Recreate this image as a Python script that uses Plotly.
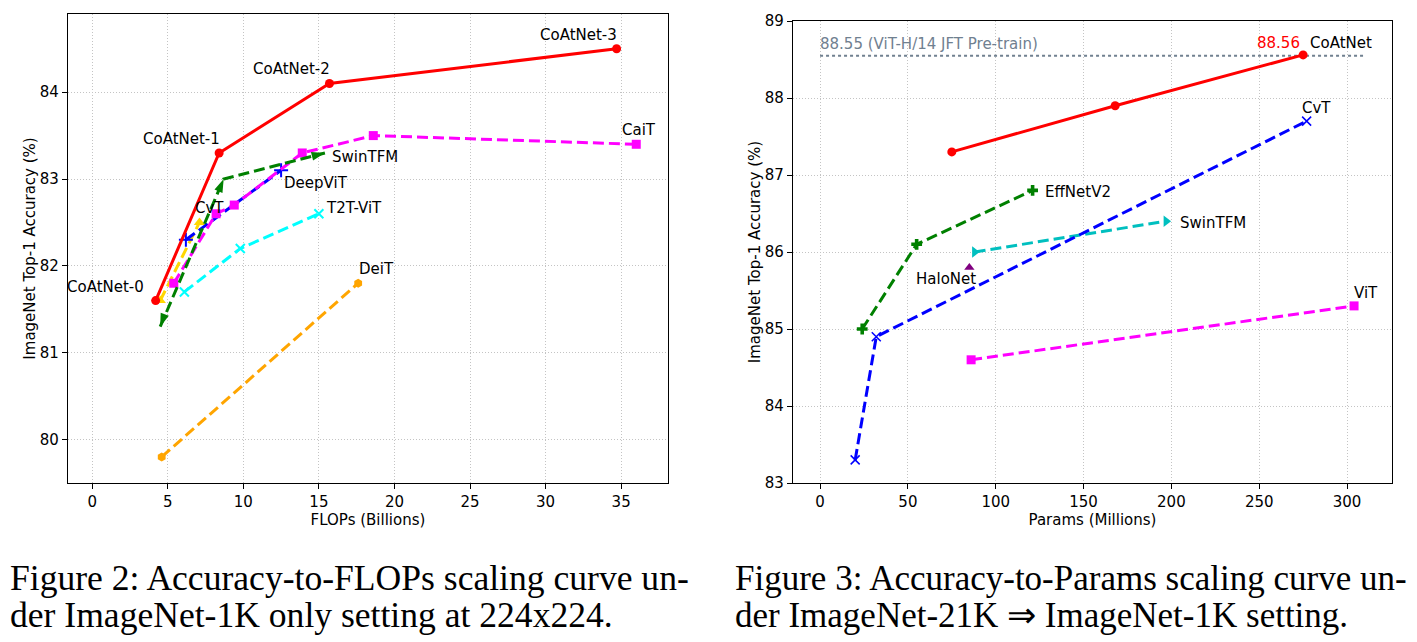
import plotly.graph_objects as go

# ---------------- Data: Figure 2 (FLOPs) ----------------
coatnet_flops = [4.2, 8.4, 15.7, 34.7]
coatnet_acc1k = [81.6, 83.3, 84.1, 84.5]
coatnet_names = ["CoAtNet-0", "CoAtNet-1", "CoAtNet-2", "CoAtNet-3"]

cait_flops = [5.4, 8.2, 9.4, 13.9, 18.6, 36.0]
cait_acc = [81.8, 82.6, 82.7, 83.3, 83.5, 83.4]

swin_flops = [4.5, 8.7, 15.4]
swin_acc1k = [81.3, 83.0, 83.3]

deepvit_flops = [6.2, 12.5]
deepvit_acc = [82.3, 83.1]

cvt_flops = [4.5, 7.1]
cvt_acc1k = [81.6, 82.5]

t2t_flops = [6.1, 9.8, 15.0]
t2t_acc = [81.7, 82.2, 82.6]

deit_flops = [4.6, 17.6]
deit_acc = [79.8, 81.8]

# ---------------- Data: Figure 3 (Params) ----------------
coatnet_params = [75, 168, 275]
coatnet_acc21k = [87.3, 87.9, 88.56]

cvt_params = [20, 32, 277]
cvt_acc21k = [83.3, 84.9, 87.7]

effv2_params = [24, 55, 121]
effv2_acc = [85.0, 86.1, 86.8]

swin_params = [88, 197]
swin_acc21k = [86.0, 86.4]

halonet_params = [85]
halonet_acc = [85.8]

vit_params = [86, 304]
vit_acc = [84.6, 85.3]

vit_h_ref = 88.55
ref_line_x = [0, 310]

W, H = 1417, 642
TICKFONT = dict(family="DejaVu Sans", size=15, color="black")
LABELFONT = dict(family="DejaVu Sans", size=15, color="black")
TITLEFONT = dict(family="DejaVu Sans", size=15, color="black")
DASH = "11px,5px"
LW = 3

fig = go.Figure()


def line(x, y, color, dash, symbol, size, xa, ya, angle=None, mline=None, mcolor=None):
    marker = dict(symbol=symbol, size=size, color=mcolor or color)
    if angle is not None:
        marker["angle"] = angle
    if mline:
        marker["line"] = dict(color=color, width=mline)
    fig.add_trace(go.Scatter(
        x=x, y=y, mode="lines+markers", xaxis=xa, yaxis=ya,
        line=dict(color=color, width=LW, dash=dash),
        marker=marker, showlegend=False, hoverinfo="x+y"))


# ---- Left plot ----
line(deit_flops, deit_acc, "orange", DASH, "hexagon", 9, "x", "y")
line(t2t_flops, t2t_acc, "cyan", DASH, "x-thin-open", 9, "x", "y", mline=2)
line(cvt_flops, cvt_acc1k, "gold", DASH, "triangle-up", 10, "x", "y")
line(deepvit_flops, deepvit_acc, "blue", DASH, "cross-thin-open", 10, "x", "y", mline=2)
line(cait_flops, cait_acc, "magenta", DASH, "square", 9, "x", "y")
line(swin_flops, swin_acc1k, "green", DASH, "arrow", 14, "x", "y", angle=[200, 23, 76])
line(coatnet_flops, coatnet_acc1k, "red", "solid", "circle", 9, "x", "y")

# ---- Right plot ----
fig.add_trace(go.Scatter(
    x=ref_line_x, y=[vit_h_ref, vit_h_ref], mode="lines", xaxis="x2", yaxis="y2",
    line=dict(color="#708090", width=2, dash="dot"), showlegend=False, hoverinfo="skip"))
line(vit_params, vit_acc, "magenta", DASH, "square", 9, "x2", "y2")
line(swin_params, swin_acc21k, "#00BFBF", DASH, "triangle-right", 10, "x2", "y2")
line(effv2_params, effv2_acc, "green", DASH, "cross", 9, "x2", "y2")
line(cvt_params, cvt_acc21k, "blue", DASH, "x-thin-open", 9, "x2", "y2", mline=1.5)
fig.add_trace(go.Scatter(
    x=halonet_params, y=halonet_acc, mode="markers", xaxis="x2", yaxis="y2",
    marker=dict(symbol="triangle-up", size=9, color="purple"), showlegend=False))
line(coatnet_params, coatnet_acc21k, "red", "solid", "circle", 9, "x2", "y2")


def label(text, x, y, xa, ya, anchor, dx, dy, color="black"):
    fig.add_annotation(text=text, x=x, y=y, xref=xa, yref=ya, showarrow=False,
                       xanchor=anchor, yanchor="middle", xshift=dx, yshift=dy,
                       font=dict(LABELFONT, color=color))


# left labels
label(coatnet_names[0], coatnet_flops[0], coatnet_acc1k[0], "x", "y", "right", -10, 14)
for i in (1, 2, 3):
    label(coatnet_names[i], coatnet_flops[i], coatnet_acc1k[i], "x", "y", "center", -38, 14)
label("CaiT", cait_flops[-1], cait_acc[-1], "x", "y", "center", 3, 14)
label("SwinTFM", swin_flops[-1], swin_acc1k[-1], "x", "y", "left", 5, -4)
label("DeepViT", deepvit_flops[-1], deepvit_acc[-1], "x", "y", "left", 1, -13)
label("T2T-ViT", t2t_flops[-1], t2t_acc[-1], "x", "y", "left", 5, 6)
label("CvT", cvt_flops[-1], cvt_acc1k[-1], "x", "y", "center", 10, 14)
label("DeiT", deit_flops[-1], deit_acc[-1], "x", "y", "left", -1, 14)

# right labels
label("88.55 (ViT-H/14 JFT Pre-train)", ref_line_x[0], vit_h_ref, "x2", "y2", "left", -2, 12,
      color="#708090")
label("88.56", coatnet_params[-1], coatnet_acc21k[-1], "x2", "y2", "right", -1, 12, color="red")
label("CoAtNet", coatnet_params[-1], coatnet_acc21k[-1], "x2", "y2", "left", 5, 12)
label("CvT", cvt_params[-1], cvt_acc21k[-1], "x2", "y2", "center", 10, 13)
label("EffNetV2", effv2_params[-1], effv2_acc[-1], "x2", "y2", "left", 10, -2)
label("SwinTFM", swin_params[-1], swin_acc21k[-1], "x2", "y2", "left", 12, -2)
label("HaloNet", halonet_params[0], halonet_acc[0], "x2", "y2", "center", -23, -12)
label("ViT", vit_params[-1], vit_acc[-1], "x2", "y2", "center", 12, 13)

# captions
captions = [
    (8 / W, 35.6, "Figure 2: Accuracy-to-FLOPs scaling curve un-", "der ImageNet-1K only setting at 224x224."),
    (733 / W, 35.0, "Figure 3: Accuracy-to-Params scaling curve un-", "der ImageNet-21K \u21d2 ImageNet-1K setting."),
]
for cx, fs, l1, l2 in captions:
    for yy, t in ((1 - 578 / H, l1), (1 - 615 / H, l2)):
        fig.add_annotation(text=t, x=cx, y=yy, xref="paper", yref="paper", showarrow=False,
                           xanchor="left", yanchor="middle",
                           font=dict(family="Liberation Serif", size=fs, color="black"))

axis_common = dict(
    showline=True, linecolor="black", linewidth=1.2, mirror=True,
    ticks="outside", ticklen=5, tickcolor="black", tickwidth=1,
    showgrid=True, gridcolor="#c4c4c4", gridwidth=1, griddash="1px,2px",
    zeroline=False, tickfont=TICKFONT, automargin=False,
)

fig.update_layout(
    width=W, height=H, margin=dict(l=0, r=0, t=0, b=0, autoexpand=False),
    paper_bgcolor="white", plot_bgcolor="white",
    xaxis=dict(axis_common, domain=[68 / W, 668 / W], range=[-1.6, 38.1],
               tickvals=[0, 5, 10, 15, 20, 25, 30, 35], anchor="y",
               title=dict(text="FLOPs (Billions)", font=TITLEFONT, standoff=0)),
    yaxis=dict(axis_common, domain=[1 - 483 / H, 1 - 14 / H], range=[79.5, 84.9],
               tickvals=[80, 81, 82, 83, 84], anchor="x",
               title=dict(text="ImageNet Top-1 Accuracy (%)", font=TITLEFONT, standoff=0)),
    xaxis2=dict(axis_common, domain=[793 / W, 1392 / W], range=[-15.4, 325.6],
                tickvals=[0, 50, 100, 150, 200, 250, 300], anchor="y2",
                title=dict(text="Params (Millions)", font=TITLEFONT, standoff=0)),
    yaxis2=dict(axis_common, domain=[1 - 483 / H, 1 - 21 / H], range=[83, 89],
                tickvals=[83, 84, 85, 86, 87, 88, 89], anchor="x2",
                title=dict(text="ImageNet Top-1 Accuracy (%)", font=TITLEFONT, standoff=0)),
)

fig.write_html(
    "out.html",
    config={"displayModeBar": False},
    post_script="document.body.style.margin='0';document.body.style.overflow='hidden';",
)
